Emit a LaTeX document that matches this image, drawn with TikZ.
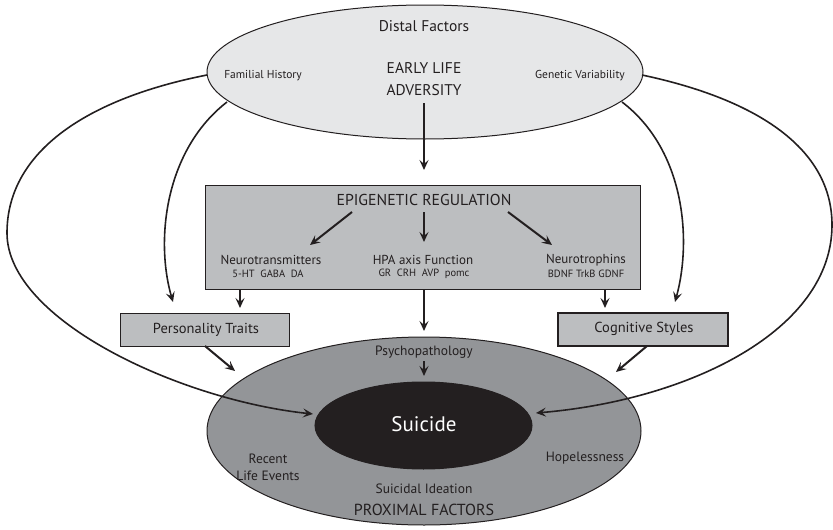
\documentclass[tikz,border=0pt]{standalone}
\usepackage{fontspec}
\setmainfont{PT Sans}
\usetikzlibrary{shapes.geometric,arrows.meta}
\definecolor{ink}{HTML}{231F20}
\definecolor{distalfill}{HTML}{E6E7E8}
\definecolor{boxfill}{HTML}{BCBEC0}
\definecolor{proxfill}{HTML}{939598}
\tikzset{
  arr/.style={line width=2pt, draw=ink, -{Stealth[length=10pt,width=9pt,inset=4pt]}},
  curve/.style={line width=1.6pt, draw=ink, -{Stealth[length=10pt,width=9pt,inset=4pt]}},
  oval/.style={ellipse, draw=ink, line width=1pt, inner sep=0pt},
  panel/.style={rectangle, draw=ink, line width=1pt, fill=boxfill, inner sep=0pt},
  lbl/.style={text=ink, inner sep=0pt, align=center},
}
\begin{document}
\begin{tikzpicture}[x=1pt,y=-1pt]
\useasboundingbox (0,0) rectangle (833,530);

% ovals and boxes
\node[oval, fill=distalfill, minimum width=436pt, minimum height=134pt] (distal) at (425,72) {};
\node[panel, minimum width=435pt, minimum height=104pt] (epi) at (422.5,237) {};
\node[panel, minimum width=169pt, minimum height=33pt] (pers) at (204.5,329.5) {};
\node[panel, line width=2pt, minimum width=170pt, minimum height=33pt] (cog) at (643,329.5) {};
\node[oval, fill=proxfill, minimum width=434pt, minimum height=188pt] (prox) at (424,431) {};
\node[oval, fill=ink, minimum width=217pt, minimum height=87pt] (suicide) at (423.5,425.5) {};

% texts
\node[lbl, font=\fontsize{15.5}{17}\selectfont] (tdistal) at (424,26) {Distal Factors};
\node[lbl, font=\fontsize{11.5}{13}\selectfont] (tfam) at (263,76) {Familial History};
\node[lbl, font=\fontsize{11.5}{13}\selectfont] (tgen) at (580,76) {Genetic Variability};
\node[lbl, font=\fontsize{15.5}{22}\selectfont] (tearly) at (424,79) {EARLY LIFE\\ADVERSITY};
\node[lbl, font=\fontsize{15.8}{18}\selectfont] (tepi) at (424,200) {EPIGENETIC REGULATION};
\node[lbl, font=\fontsize{13}{14}\selectfont] (tneuro) at (271,260) {Neurotransmitters};
\node[lbl, font=\fontsize{10.5}{12}\selectfont] (tneurox) at (268,274) {5-HT\ \ GABA\ \ DA};
\node[lbl, font=\fontsize{13}{14}\selectfont] (thpa) at (423,260) {HPA axis Function};
\node[lbl, font=\fontsize{10.5}{12}\selectfont] (thpax) at (424,274) {GR\ \ CRH\ \ AVP\ \ pomc};
\node[lbl, font=\fontsize{13}{14}\selectfont] (ttroph) at (586,260) {Neurotrophins};
\node[lbl, font=\fontsize{10.5}{12}\selectfont] (ttrophx) at (586,274) {BDNF TrkB GDNF};
\node[lbl, font=\fontsize{14.5}{16}\selectfont] (tpers) at (206,330) {Personality Traits};
\node[lbl, font=\fontsize{14.5}{16}\selectfont] (tcog) at (644,329) {Cognitive Styles};
\node[lbl, font=\fontsize{13.5}{15}\selectfont] (tpsy) at (424,352) {Psychopathology};
\node[lbl, text=white, font=\fontsize{21}{23}\selectfont] (tsui) at (424,424) {Suicide};
\node[lbl, font=\fontsize{13.5}{17}\selectfont] (trecent) at (268,467) {Recent\\Life Events};
\node[lbl, font=\fontsize{13.5}{15}\selectfont] (thope) at (585,458) {Hopelessness};
\node[lbl, font=\fontsize{13.5}{15}\selectfont] (tidea) at (424,489) {Suicidal Ideation};
\node[lbl, font=\fontsize{16}{18}\selectfont] (tprox) at (424,510) {PROXIMAL FACTORS};

% arrow end points
\coordinate (earlyend) at (424,170);
\coordinate (neuroend) at (310,245);
\coordinate (hpaend) at (424,242);
\coordinate (trophend) at (552,245);
\coordinate (epiL) at (240,290);
\coordinate (epiLend) at (240,308);
\coordinate (epiC) at (424,290);
\coordinate (epiCend) at (424,331);
\coordinate (epiR) at (605,290);
\coordinate (epiRend) at (605,308);
\coordinate (persS) at (205,346);
\coordinate (persend) at (235,371);
\coordinate (cogS) at (647,346);
\coordinate (cogend) at (616,372);
\coordinate (psyend) at (424,376);
\coordinate (distL) at (207,75);
\coordinate (distR) at (642,75);
\coordinate (distLi) at (227,102);
\coordinate (distRi) at (622,102);
\coordinate (farL) at (7,233);
\coordinate (farR) at (832,225);
\coordinate (innerLend) at (173,302);
\coordinate (innerRend) at (675,302);
\coordinate (suiL) at (313,414);
\coordinate (suiR) at (536,413);

% straight arrows
\draw[arr] (tearly.south |- 0,103) -- (earlyend);
\draw[arr] (352,212) -- (neuroend);
\draw[arr] (424,212) -- (hpaend);
\draw[arr] (508,212) -- (trophend);
\draw[arr] (epiL) -- (epiLend);
\draw[arr] (epiC) -- (epiCend);
\draw[arr] (epiR) -- (epiRend);
\draw[arr] (persS) -- (persend);
\draw[arr] (cogS) -- (cogend);
\draw[arr] (424,361) -- (psyend);

% curved arrows from the distal factors
\draw[curve] (distL) .. controls (90,98) and (7,150) .. (farL)
  .. controls (7,320) and (180,400) .. (suiL);
\draw[curve] (distR) .. controls (760,100) and (832,150) .. (farR)
  .. controls (832,330) and (690,400) .. (suiR);
\draw[curve] (distLi) .. controls (165,150) and (155,240) .. (innerLend);
\draw[curve] (distRi) .. controls (685,150) and (692,240) .. (innerRend);
\end{tikzpicture}
\end{document}
